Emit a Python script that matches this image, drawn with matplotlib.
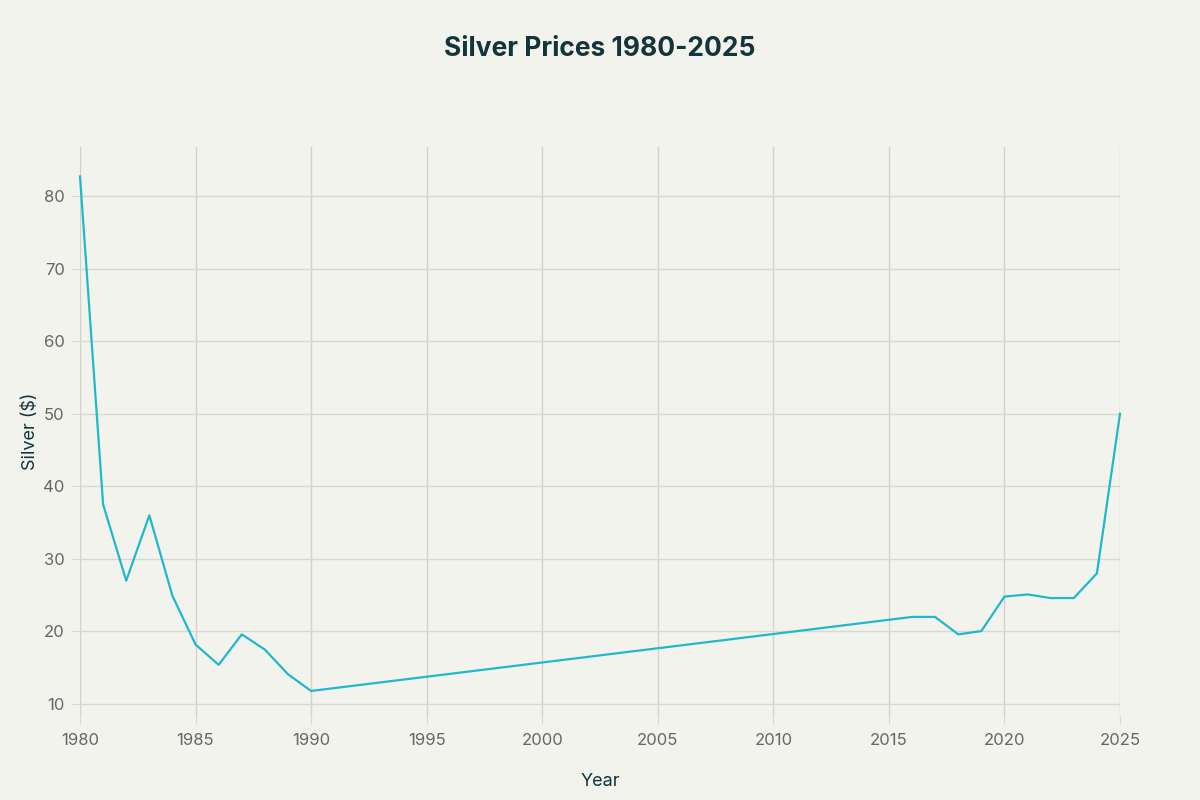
import numpy as np
import matplotlib.pyplot as plt

# silver price per year (no points between 1990 and 2016)
years = [1980, 1981, 1982, 1983, 1984, 1985, 1986, 1987, 1988, 1989, 1990,
         2016, 2017, 2018, 2019, 2020, 2021, 2022, 2023, 2024, 2025]
silver = [82.7, 37.5, 27.0, 36.0, 24.9, 18.2, 15.4, 19.6, 17.5, 14.1, 11.8,
          22.0, 22.0, 19.6, 20.05, 24.8, 25.1, 24.6, 24.6, 28.0, 50.0]

x_ticks = list(range(1980, 2026, 5))
y_ticks = list(range(10, 81, 10))

bg = '#F3F3EE'
dark = '#13343B'
grey = '#666666'
grid = '#D8D8D3'

plt.rcParams['font.family'] = ['Inter', 'DejaVu Sans']

fig = plt.figure(figsize=(12, 8), dpi=100, facecolor=bg)
ax = fig.add_axes([80 / 1200, 1 - 716 / 800, 1040 / 1200, (716 - 147) / 800])
ax.set_facecolor(bg)

ax.plot(years, silver, color='#1FB8CD', linewidth=1.6, zorder=3, clip_on=False)

ax.set_xlim(1980, 2025)
ax.set_ylim(8.35, 86.75)
ax.set_xticks(x_ticks)
ax.set_yticks(y_ticks)
ax.grid(True, axis='y', color=grid, linewidth=1.0, zorder=0)
ax.grid(True, axis='x', color='#D2D2CD', linewidth=1.0, zorder=0)

for s in ax.spines.values():
    s.set_visible(False)

ax.tick_params(axis='x', colors=grid, labelcolor=grey, labelsize=12, length=6, pad=6)
ax.tick_params(axis='y', colors=grid, labelcolor=grey, labelsize=12, length=6, pad=5)

ax.set_xlabel('Year', fontsize=13, color=dark, labelpad=18)
ax.set_ylabel('Silver ($)', fontsize=13, color=dark, labelpad=3)

fig.text(0.5, 1 - 49 / 800, 'Silver Prices 1980-2025', ha='center', va='center',
         fontsize=19, fontweight='bold', color=dark)

fig.savefig('out.png', dpi=100, facecolor=bg)
